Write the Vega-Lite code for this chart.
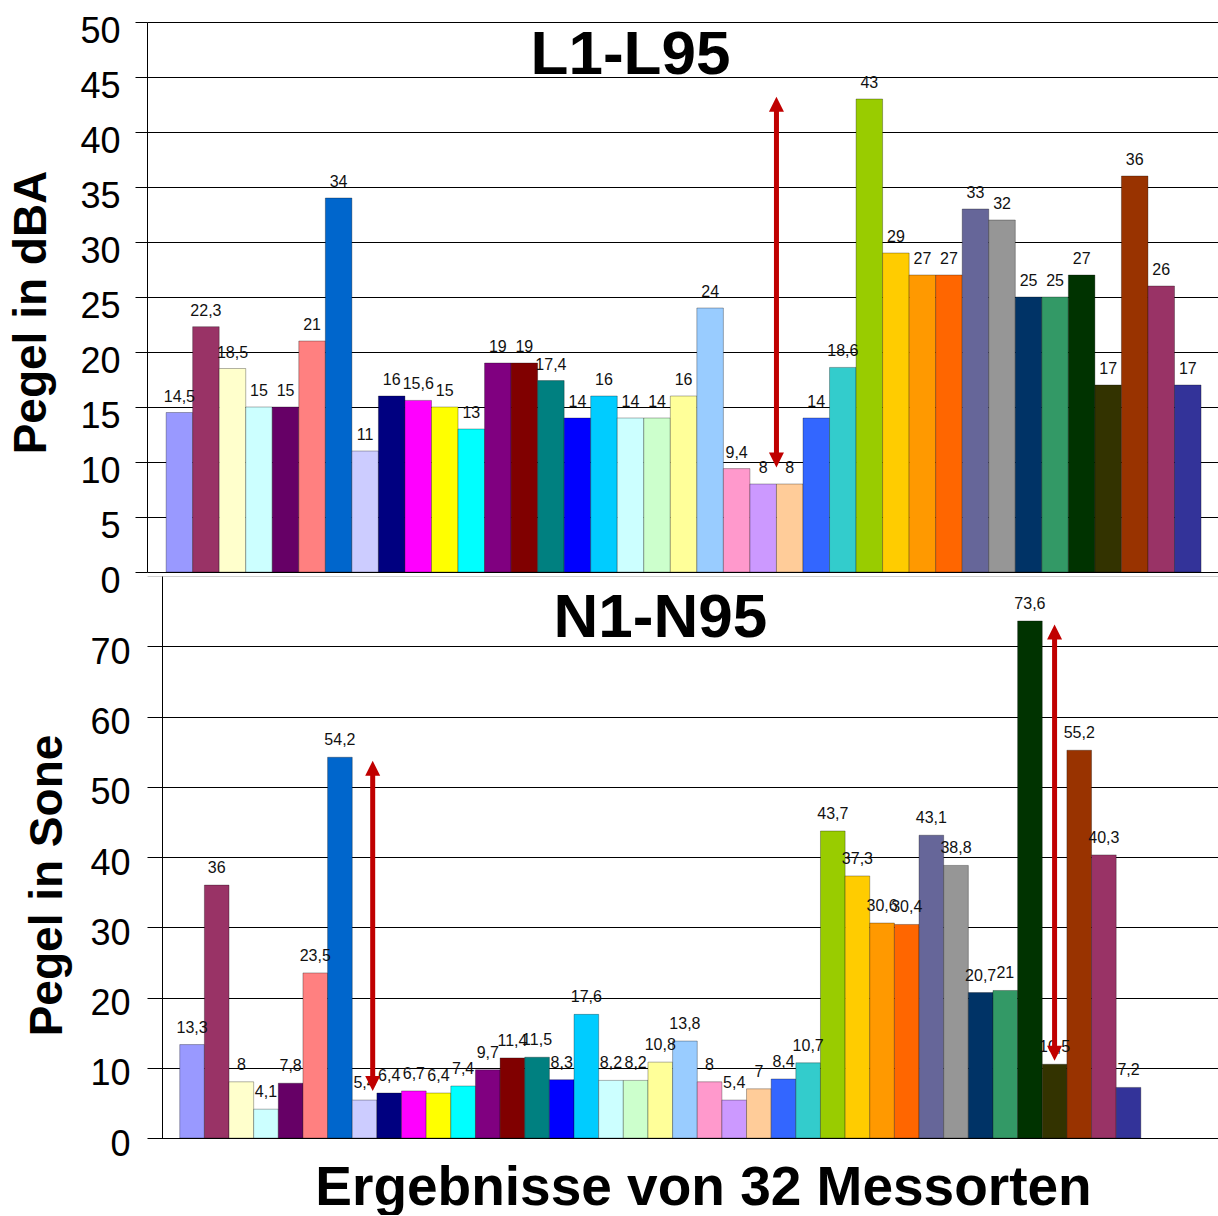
{
  "$schema": "https://vega.github.io/schema/vega-lite/v6.json",
  "padding": {"left": 8, "top": 13, "right": 0, "bottom": 0},
  "background": "white",
  "config": {
    "font": "Liberation Sans",
    "view": {"stroke": null},
    "locale": {"number": {"decimal": ",", "thousands": ".", "grouping": [3], "currency": ["", " €"]}},
    "axis": {"labelColor": "black", "titleColor": "black", "domainColor": "black", "tickColor": "black", "gridColor": "black", "gridOpacity": 1, "gridWidth": 1, "domainWidth": 1, "tickWidth": 1, "labelFont": "Liberation Sans", "titleFont": "Liberation Sans"}
  },
  "datasets": {
    "orte": [
      {"ort": 1, "dba": 14.5, "sone": 13.3},
      {"ort": 2, "dba": 22.3, "sone": 36},
      {"ort": 3, "dba": 18.5, "sone": 8},
      {"ort": 4, "dba": 15, "sone": 4.1},
      {"ort": 5, "dba": 15, "sone": 7.8},
      {"ort": 6, "dba": 21, "sone": 23.5},
      {"ort": 7, "dba": 34, "sone": 54.2},
      {"ort": 8, "dba": 11, "sone": 5.4},
      {"ort": 9, "dba": 16, "sone": 6.4},
      {"ort": 10, "dba": 15.6, "sone": 6.7},
      {"ort": 11, "dba": 15, "sone": 6.4},
      {"ort": 12, "dba": 13, "sone": 7.4},
      {"ort": 13, "dba": 19, "sone": 9.7},
      {"ort": 14, "dba": 19, "sone": 11.4},
      {"ort": 15, "dba": 17.4, "sone": 11.5},
      {"ort": 16, "dba": 14, "sone": 8.3},
      {"ort": 17, "dba": 16, "sone": 17.6},
      {"ort": 18, "dba": 14, "sone": 8.2},
      {"ort": 19, "dba": 14, "sone": 8.2},
      {"ort": 20, "dba": 16, "sone": 10.8},
      {"ort": 21, "dba": 24, "sone": 13.8},
      {"ort": 22, "dba": 9.4, "sone": 8},
      {"ort": 23, "dba": 8, "sone": 5.4},
      {"ort": 24, "dba": 8, "sone": 7},
      {"ort": 25, "dba": 14, "sone": 8.4},
      {"ort": 26, "dba": 18.6, "sone": 10.7},
      {"ort": 27, "dba": 43, "sone": 43.7},
      {"ort": 28, "dba": 29, "sone": 37.3},
      {"ort": 29, "dba": 27, "sone": 30.6},
      {"ort": 30, "dba": 27, "sone": 30.4},
      {"ort": 31, "dba": 33, "sone": 43.1},
      {"ort": 32, "dba": 32, "sone": 38.8},
      {"ort": 33, "dba": 25, "sone": 20.7},
      {"ort": 34, "dba": 25, "sone": 21},
      {"ort": 35, "dba": 27, "sone": 73.6},
      {"ort": 36, "dba": 17, "sone": 10.5},
      {"ort": 37, "dba": 36, "sone": 55.2},
      {"ort": 38, "dba": 26, "sone": 40.3},
      {"ort": 39, "dba": 17, "sone": 7.2}
    ]
  },
  "spacing": 4,
  "bounds": "flush",
  "vconcat": [
    {
      "width": 1071,
      "height": 550,
      "data": {"name": "orte"},
      "encoding": {
        "x": {"field": "ort", "type": "ordinal", "axis": null,
          "scale": {"domain": [1,2,3,4,5,6,7,8,9,10,11,12,13,14,15,16,17,18,19,20,21,22,23,24,25,26,27,28,29,30,31,32,33,34,35,36,37,38,39], "paddingInner": 0, "paddingOuter": 0.68, "align": 0.53}}
      },
      "layer": [
        {
          "mark": {"type": "bar", "stroke": "black", "strokeOpacity": 0.3, "strokeWidth": 1},
          "encoding": {
            "y": {"field": "dba", "type": "quantitative",
              "scale": {"domain": [0, 50], "nice": false},
              "axis": {"title": "Pegel in dBA", "titleFontSize": 46, "titleFontWeight": "bold", "titlePadding": 24, "titleY": 290,
                "values": [0,5,10,15,20,25,30,35,40,45,50], "labelFontSize": 36, "labelPadding": 15, "labelOffset": 9, "tickSize": 12, "grid": true, "labelOverlap": false, "labelFlush": false}},
            "color": {"field": "ort", "type": "nominal", "legend": null,
              "scale": {"domain": [1,2,3,4,5,6,7,8,9,10,11,12,13,14,15,16,17,18,19,20,21,22,23,24,25,26,27,28,29,30,31,32,33,34,35,36,37,38,39],
                "range": ["#9999FF","#993366","#FFFFCC","#CCFFFF","#660066","#FF8080","#0066CC","#CCCCFF","#000080","#FF00FF","#FFFF00","#00FFFF","#800080","#800000","#008080","#0000FF","#00CCFF","#CCFFFF","#CCFFCC","#FFFF99","#99CCFF","#FF99CC","#CC99FF","#FFCC99","#3366FF","#33CCCC","#99CC00","#FFCC00","#FF9900","#FF6600","#666699","#969696","#003366","#339966","#003300","#333300","#993300","#993366","#333399"]}}
          }
        },
        {
          "mark": {"type": "text", "baseline": "alphabetic", "dy": -11, "fontSize": 16, "color": "#111111", "font": "Liberation Sans"},
          "encoding": {
            "y": {"field": "dba", "type": "quantitative"},
            "text": {"field": "dba", "type": "quantitative", "format": ".1~f"}
          }
        },
        {
          "data": {"values": [{"titel": "L1-L95"}]},
          "mark": {"type": "text", "baseline": "alphabetic", "align": "center", "fontSize": 62, "fontWeight": "bold", "color": "black", "font": "Liberation Sans"},
          "encoding": {
            "x": {"datum": 18},
            "y": {"datum": 45.3, "type": "quantitative"},
            "text": {"field": "titel"}
          }
        },
        {
          "data": {"values": [{"ort": 23, "oben": 43.2, "unten": 9.5}]},
          "encoding": {"x": {"field": "ort", "type": "ordinal", "bandPosition": 1}},
          "layer": [
            {"mark": {"type": "rule", "color": "#C00000", "strokeWidth": 5, "yOffset": 12, "y2Offset": -12},
             "encoding": {"y": {"field": "oben", "type": "quantitative"}, "y2": {"field": "unten"}}},
            {"mark": {"type": "point", "shape": "M0,0L-0.5,1L0.5,1Z", "size": 900, "filled": true, "color": "#C00000", "opacity": 1},
             "encoding": {"y": {"field": "oben", "type": "quantitative"}}},
            {"mark": {"type": "point", "shape": "M0,0L-0.5,-1L0.5,-1Z", "size": 900, "filled": true, "color": "#C00000", "opacity": 1},
             "encoding": {"y": {"field": "unten", "type": "quantitative"}}}
          ]
        }
      ]
    },
    {
      "width": 1071,
      "height": 562,
      "data": {"name": "orte"},
      "encoding": {
        "x": {"field": "ort", "type": "ordinal",
          "scale": {"domain": [1,2,3,4,5,6,7,8,9,10,11,12,13,14,15,16,17,18,19,20,21,22,23,24,25,26,27,28,29,30,31,32,33,34,35,36,37,38,39,40,41,42], "paddingInner": 0, "paddingOuter": 0.73, "align": 0.91},
          "axis": {"title": "Ergebnisse von 32 Messorten", "titleFontSize": 55, "titleFontWeight": "bold", "labels": false, "ticks": false, "domain": false, "titlePadding": 23, "titleX": 556}}
      },
      "layer": [
        {
          "mark": {"type": "bar", "stroke": "black", "strokeOpacity": 0.3, "strokeWidth": 1},
          "encoding": {
            "y": {"field": "sone", "type": "quantitative",
              "scale": {"domain": [0, 80], "nice": false},
              "axis": {"title": "Pegel in Sone", "titleFontSize": 46, "titleFontWeight": "bold", "titlePadding": 18, "titleY": 309, "offset": -15,
                "values": [0,10,20,30,40,50,60,70,80], "labelExpr": "datum.value == 80 ? '' : datum.label",
                "tickColor": {"condition": {"test": "datum.value == 80", "value": "transparent"}, "value": "black"},
                "gridColor": {"condition": {"test": "datum.value == 80", "value": "#D0D0D0"}, "value": "black"},
                "labelFontSize": 36, "labelPadding": 18, "labelOffset": 6, "tickSize": 14, "grid": true, "labelOverlap": false, "labelFlush": false}},
            "color": {"field": "ort", "type": "nominal", "legend": null}
          }
        },
        {
          "mark": {"type": "text", "baseline": "alphabetic", "dy": -12, "fontSize": 16, "color": "#111111", "font": "Liberation Sans"},
          "encoding": {
            "y": {"field": "sone", "type": "quantitative"},
            "text": {"field": "sone", "type": "quantitative", "format": ".1~f"}
          }
        },
        {
          "data": {"values": [{"titel": "N1-N95"}]},
          "mark": {"type": "text", "baseline": "alphabetic", "align": "center", "fontSize": 62, "fontWeight": "bold", "color": "black", "font": "Liberation Sans"},
          "encoding": {
            "x": {"datum": 20},
            "y": {"datum": 71.3, "type": "quantitative"},
            "text": {"field": "titel"}
          }
        },
        {
          "data": {"values": [{"ort": 8, "oben": 53.7, "unten": 6.7}]},
          "encoding": {"x": {"field": "ort", "type": "ordinal", "bandPosition": 0.83}},
          "layer": [
            {"mark": {"type": "rule", "color": "#C00000", "strokeWidth": 5, "yOffset": 12, "y2Offset": -12},
             "encoding": {"y": {"field": "oben", "type": "quantitative"}, "y2": {"field": "unten"}}},
            {"mark": {"type": "point", "shape": "M0,0L-0.5,1L0.5,1Z", "size": 900, "filled": true, "color": "#C00000", "opacity": 1},
             "encoding": {"y": {"field": "oben", "type": "quantitative"}}},
            {"mark": {"type": "point", "shape": "M0,0L-0.5,-1L0.5,-1Z", "size": 900, "filled": true, "color": "#C00000", "opacity": 1},
             "encoding": {"y": {"field": "unten", "type": "quantitative"}}}
          ]
        },
        {
          "data": {"values": [{"ort": 36, "oben": 73.1, "unten": 11}]},
          "encoding": {"x": {"field": "ort", "type": "ordinal", "bandPosition": 0.5}},
          "layer": [
            {"mark": {"type": "rule", "color": "#C00000", "strokeWidth": 5, "yOffset": 12, "y2Offset": -12},
             "encoding": {"y": {"field": "oben", "type": "quantitative"}, "y2": {"field": "unten"}}},
            {"mark": {"type": "point", "shape": "M0,0L-0.5,1L0.5,1Z", "size": 900, "filled": true, "color": "#C00000", "opacity": 1},
             "encoding": {"y": {"field": "oben", "type": "quantitative"}}},
            {"mark": {"type": "point", "shape": "M0,0L-0.5,-1L0.5,-1Z", "size": 900, "filled": true, "color": "#C00000", "opacity": 1},
             "encoding": {"y": {"field": "unten", "type": "quantitative"}}}
          ]
        }
      ]
    }
  ]
}
